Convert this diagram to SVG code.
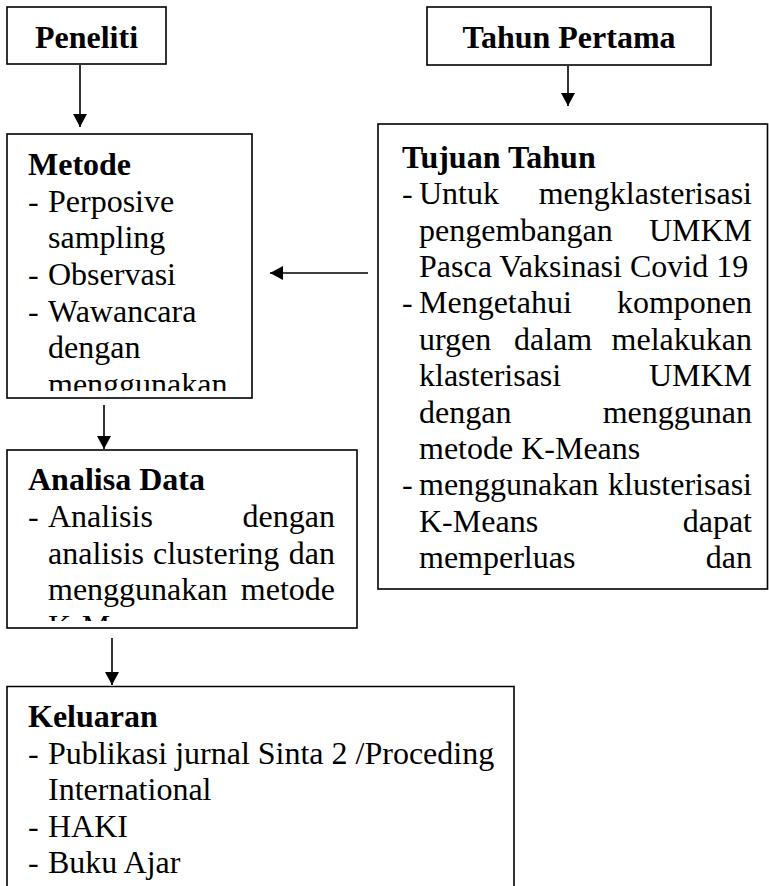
<svg xmlns="http://www.w3.org/2000/svg" width="769" height="886" viewBox="0 0 769 886">
<style>
.box{fill:#fff;stroke:#000;stroke-width:1.6}
.t{font-family:"Liberation Serif","Times New Roman",serif;font-size:32px;fill:#000}
.b{font-weight:bold}
.e{text-anchor:end}
.m{text-anchor:middle}
.con line{stroke:#000;stroke-width:1.6}
</style>
<defs>
<marker id="ah" markerUnits="userSpaceOnUse" markerWidth="14" markerHeight="15" refX="13" refY="7" orient="auto">
<path d="M0,0 L13,7 L0,14 z" fill="#000"/>
</marker>
<clipPath id="cMetode"><rect x="7" y="134" width="245" height="257"/></clipPath>
<clipPath id="cTujuan"><rect x="378" y="124" width="390" height="465"/></clipPath>
<clipPath id="cAnalisa"><rect x="7" y="450" width="350" height="171"/></clipPath>
<clipPath id="cKeluaran"><rect x="7" y="686" width="507" height="200"/></clipPath>
</defs>
<rect width="769" height="886" fill="#fff"/>

<g id="peneliti">
<rect class="box" x="7" y="7" width="159" height="57"/>
<text class="t b m" x="86.5" y="47.7">Peneliti</text>
</g>

<g id="tahun-pertama">
<rect class="box" x="427" y="7" width="284" height="58"/>
<text class="t b m" x="569" y="47.7">Tahun Pertama</text>
</g>

<g id="metode">
<rect class="box" x="7" y="134" width="245" height="264"/>
<g clip-path="url(#cMetode)">
<text class="t b" x="28" y="175">Metode</text>
<text class="t" x="28" y="211.7">-</text><text class="t" x="48" y="211.7">Perposive</text>
<text class="t" x="48" y="248.3">sampling</text>
<text class="t" x="28" y="285">-</text><text class="t" x="48" y="285">Observasi</text>
<text class="t" x="28" y="321.7">-</text><text class="t" x="48" y="321.7">Wawancara</text>
<text class="t" x="48" y="358.4">dengan</text>
<text class="t" x="48" y="395">menggunakan</text>
</g>
</g>

<g id="tujuan-tahun">
<rect class="box" x="378" y="124" width="389.5" height="465"/>
<g clip-path="url(#cTujuan)">
<text class="t b" x="402" y="167.7">Tujuan Tahun</text>
<text class="t" x="402" y="204.1">-</text><text class="t" x="419" y="204.1">Untuk</text><text class="t e" x="752" y="204.1">mengklasterisasi</text>
<text class="t" x="419" y="240.5">pengembangan</text><text class="t e" x="752" y="240.5">UMKM</text>
<text class="t" x="419" y="276.9">Pasca Vaksinasi Covid 19</text>
<text class="t" x="402" y="313.3">-</text><text class="t" x="419" y="313.3">Mengetahui</text><text class="t e" x="752" y="313.3">komponen</text>
<text class="t" x="419" y="349.7">urgen</text><text class="t" x="514" y="349.7">dalam</text><text class="t e" x="752" y="349.7">melakukan</text>
<text class="t" x="419" y="386.1">klasterisasi</text><text class="t e" x="752" y="386.1">UMKM</text>
<text class="t" x="419" y="422.5">dengan</text><text class="t e" x="752" y="422.5">menggunan</text>
<text class="t" x="419" y="458.9">metode K-Means</text>
<text class="t" x="402" y="495.3">-</text><text class="t" x="419" y="495.3">menggunakan</text><text class="t e" x="752" y="495.3">klusterisasi</text>
<text class="t" x="419" y="531.7">K-Means</text><text class="t e" x="752" y="531.7">dapat</text>
<text class="t" x="419" y="568.1">memperluas</text><text class="t e" x="752" y="568.1">dan</text>
</g>
</g>

<g id="analisa-data">
<rect class="box" x="7" y="450" width="350" height="178"/>
<g clip-path="url(#cAnalisa)">
<text class="t b" x="28" y="490">Analisa Data</text>
<text class="t" x="28" y="527">-</text><text class="t" x="48" y="527">Analisis</text><text class="t e" x="335" y="527">dengan</text>
<text class="t" x="48" y="563.5">analisis</text><text class="t" x="153" y="563.5">clustering</text><text class="t e" x="335" y="563.5">dan</text>
<text class="t" x="48" y="600">menggunakan</text><text class="t e" x="335" y="600">metode</text>
<text class="t" x="48" y="637">K-Means</text>
</g>
</g>

<g id="keluaran">
<path class="box" d="M7,886 V686.5 H514 V886" fill="none"/>
<g clip-path="url(#cKeluaran)">
<text class="t b" x="28" y="727">Keluaran</text>
<text class="t" x="28" y="763.5">-</text><text class="t" x="48" y="763.5">Publikasi jurnal Sinta 2 /Proceding</text>
<text class="t" x="48" y="800">International</text>
<text class="t" x="28" y="836.5">-</text><text class="t" x="48" y="836.5">HAKI</text>
<text class="t" x="28" y="873">-</text><text class="t" x="48" y="873">Buku Ajar</text>
</g>
</g>

<g id="connectors" class="con">
<line x1="80" y1="65" x2="80" y2="127" marker-end="url(#ah)"/>
<line x1="568" y1="66" x2="568" y2="106" marker-end="url(#ah)"/>
<line x1="368" y1="273" x2="270" y2="273" marker-end="url(#ah)"/>
<line x1="104" y1="405" x2="104" y2="449" marker-end="url(#ah)"/>
<line x1="112" y1="638" x2="112" y2="685" marker-end="url(#ah)"/>
</g>
</svg>
